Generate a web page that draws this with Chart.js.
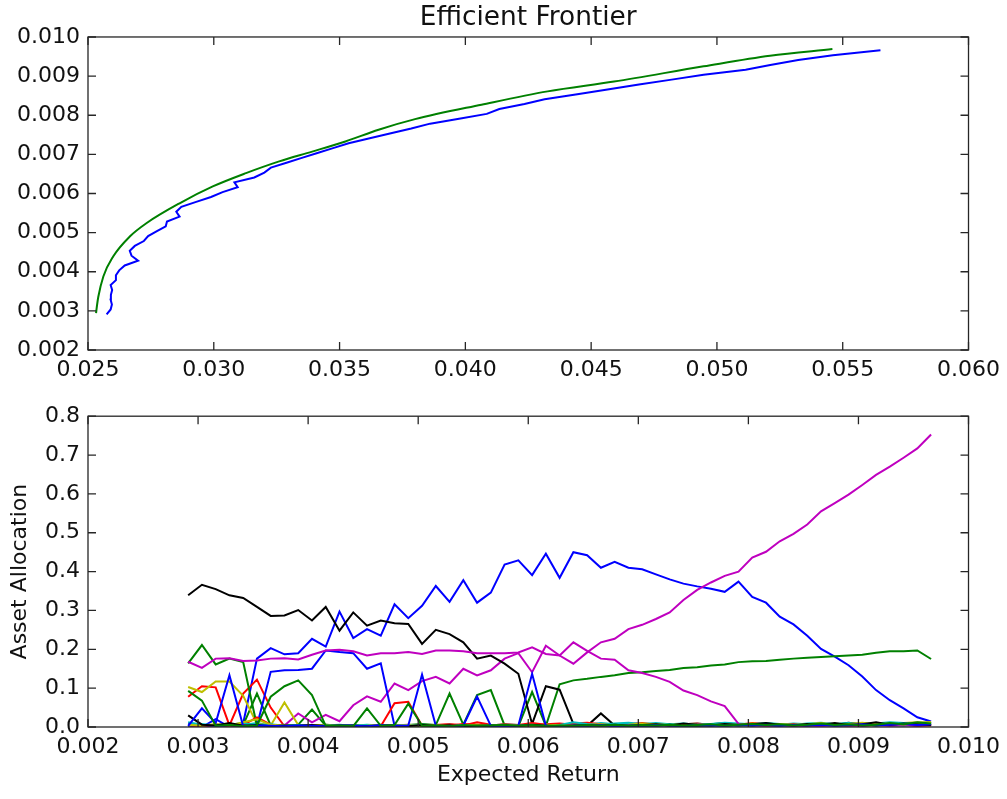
<!DOCTYPE html>
<html>
<head>
<meta charset="utf-8">
<script src="https://cdn.jsdelivr.net/npm/chart.js@4.4.1/dist/chart.umd.min.js"></script>
<style>
  html, body { margin: 0; padding: 0; background: #ffffff; }
  #wrap { position: relative; width: 1007px; height: 799px; }
  canvas { position: absolute; left: 0; }
  #frontier { top: 0; }
  #alloc { top: 395px; }
</style>
</head>
<body>
<div id="wrap">
  <canvas id="frontier" width="1007" height="395"></canvas>
  <canvas id="alloc" width="1007" height="404"></canvas>
</div>
<script>
// Target expected returns used for every optimised portfolio
const expectedReturn = [
  0.002910, 0.003035, 0.003160, 0.003285, 0.003410, 0.003535, 0.003660, 0.003785, 0.003910, 0.004035, 0.004160,
  0.004285, 0.004410, 0.004535, 0.004660, 0.004785, 0.004910, 0.005035, 0.005160, 0.005285, 0.005410, 0.005535,
  0.005660, 0.005785, 0.005910, 0.006035, 0.006160, 0.006285, 0.006410, 0.006535, 0.006660, 0.006785, 0.006910,
  0.007035, 0.007160, 0.007285, 0.007410, 0.007535, 0.007660, 0.007785, 0.007910, 0.008035, 0.008160, 0.008285,
  0.008410, 0.008535, 0.008660, 0.008785, 0.008910, 0.009035, 0.009160, 0.009285, 0.009410, 0.009535, 0.009660
];

// Risk (std dev) of the optimised portfolios, one per target return
const portfolioRisk = [
  0.02574, 0.02590, 0.02595, 0.02590, 0.02591, 0.02596, 0.02590, 0.02611, 0.02611, 0.02624, 0.02646,
  0.02699, 0.02673, 0.02666, 0.02686, 0.02722, 0.02739, 0.02774, 0.02809, 0.02814, 0.02864, 0.02851,
  0.02871, 0.02930, 0.02989, 0.03035, 0.03095, 0.03082, 0.03161, 0.03201, 0.03227, 0.03289, 0.03350,
  0.03412, 0.03474, 0.03536, 0.03620, 0.03700, 0.03785, 0.03860, 0.03975, 0.04085, 0.04135, 0.04235,
  0.04315, 0.04445, 0.04565, 0.04690, 0.04820, 0.04947, 0.05114, 0.05212, 0.05323, 0.05461, 0.05650
];

// Analytical frontier
const frontierRisk = [
  0.02532, 0.02536, 0.02541, 0.02561, 0.02600, 0.02666, 0.02732, 0.02864, 0.02996, 0.03128, 0.03260,
  0.03391, 0.03523, 0.03655, 0.03800, 0.04064, 0.04327, 0.04591, 0.04947, 0.05211, 0.05459
];
const frontierReturn = [
  0.00294, 0.00315, 0.00336, 0.00388, 0.00439, 0.00490, 0.00524, 0.00575, 0.00618, 0.00652, 0.00682,
  0.00707, 0.00733, 0.00763, 0.00790, 0.00827, 0.00861, 0.00886, 0.00925, 0.00952, 0.00969
];

// Asset weights along the frontier
const asset01 = [
  0.010, 0.000, 0.020, 0.000, 0.010, 0.176, 0.203, 0.187, 0.190, 0.227, 0.207,
  0.297, 0.229, 0.252, 0.235, 0.316, 0.280, 0.312, 0.363, 0.322, 0.378, 0.320,
  0.346, 0.418, 0.429, 0.391, 0.446, 0.384, 0.450, 0.442, 0.410, 0.425, 0.410,
  0.406, 0.393, 0.380, 0.369, 0.362, 0.356, 0.348, 0.374, 0.335, 0.320, 0.284,
  0.264, 0.235, 0.201, 0.181, 0.159, 0.130, 0.095, 0.069, 0.048, 0.025, 0.014
];
const asset02 = [
  0.004, 0.002, 0.006, 0.003, 0.005, 0.086, 0.004, 0.002, 0.006, 0.045, 0.003,
  0.005, 0.002, 0.004, 0.006, 0.003, 0.005, 0.008, 0.005, 0.086, 0.006, 0.082,
  0.095, 0.004, 0.002, 0.090, 0.003, 0.110, 0.120, 0.124, 0.129, 0.133, 0.139,
  0.141, 0.144, 0.147, 0.152, 0.154, 0.158, 0.161, 0.167, 0.169, 0.170, 0.173,
  0.176, 0.178, 0.180, 0.182, 0.184, 0.186, 0.191, 0.195, 0.195, 0.197, 0.175
];
const asset03 = [
  0.078, 0.105, 0.102, 0.004, 0.086, 0.122, 0.050, 0.002, 0.003, 0.001, 0.004,
  0.002, 0.005, 0.003, 0.002, 0.004, 0.006, 0.003, 0.005, 0.008, 0.004, 0.012,
  0.006, 0.003, 0.005, 0.004, 0.007, 0.009, 0.006, 0.004, 0.008, 0.005, 0.007,
  0.004, 0.006, 0.008, 0.005, 0.003, 0.006, 0.004, 0.007, 0.005, 0.003, 0.006,
  0.004, 0.005, 0.007, 0.004, 0.006, 0.003, 0.005, 0.004, 0.006, 0.003, 0.004
];
const asset04 = [
  0.012, 0.006, 0.004, 0.008, 0.005, 0.010, 0.004, 0.006, 0.003, 0.005, 0.002,
  0.004, 0.003, 0.006, 0.004, 0.002, 0.005, 0.003, 0.004, 0.006, 0.003, 0.005,
  0.004, 0.007, 0.005, 0.003, 0.006, 0.004, 0.008, 0.006, 0.010, 0.007, 0.009,
  0.006, 0.008, 0.005, 0.007, 0.009, 0.006, 0.004, 0.007, 0.005, 0.008, 0.006,
  0.009, 0.007, 0.005, 0.008, 0.006, 0.009, 0.007, 0.010, 0.008, 0.006, 0.009
];
const asset05 = [
  0.003, 0.002, 0.004, 0.003, 0.002, 0.005, 0.003, 0.004, 0.035, 0.012, 0.031,
  0.015, 0.056, 0.079, 0.065, 0.112, 0.095, 0.118, 0.129, 0.112, 0.150, 0.133,
  0.146, 0.176, 0.190, 0.141, 0.209, 0.184, 0.163, 0.192, 0.218, 0.227, 0.252,
  0.263, 0.278, 0.295, 0.327, 0.353, 0.372, 0.389, 0.400, 0.436, 0.451, 0.478,
  0.497, 0.521, 0.555, 0.576, 0.598, 0.623, 0.649, 0.670, 0.693, 0.717, 0.753
];
const asset06 = [
  0.103, 0.090, 0.117, 0.117, 0.080, 0.008, 0.004, 0.063, 0.005, 0.003, 0.006,
  0.004, 0.002, 0.005, 0.003, 0.006, 0.004, 0.002, 0.005, 0.003, 0.006, 0.004,
  0.003, 0.005, 0.002, 0.004, 0.006, 0.003, 0.005, 0.004, 0.002, 0.006, 0.004,
  0.005, 0.003, 0.006, 0.004, 0.002, 0.005, 0.007, 0.004, 0.006, 0.003, 0.005,
  0.008, 0.006, 0.004, 0.007, 0.005, 0.009, 0.006, 0.008, 0.010, 0.012, 0.010
];
const asset07 = [
  0.339, 0.366, 0.355, 0.339, 0.332, 0.309, 0.286, 0.287, 0.301, 0.274, 0.309,
  0.248, 0.295, 0.261, 0.274, 0.267, 0.265, 0.214, 0.250, 0.239, 0.218, 0.176,
  0.184, 0.163, 0.137, 0.008, 0.105, 0.096, 0.008, 0.003, 0.035, 0.004, 0.003,
  0.006, 0.004, 0.008, 0.005, 0.003, 0.007, 0.010, 0.006, 0.004, 0.008, 0.005,
  0.007, 0.004, 0.009, 0.006, 0.011, 0.007, 0.005, 0.008, 0.006, 0.004, 0.007
];
const asset08 = [
  0.002, 0.004, 0.003, 0.002, 0.004, 0.003, 0.142, 0.146, 0.147, 0.150, 0.197,
  0.193, 0.190, 0.150, 0.164, 0.003, 0.002, 0.004, 0.003, 0.002, 0.004, 0.003,
  0.002, 0.003, 0.004, 0.002, 0.003, 0.002, 0.004, 0.003, 0.005, 0.003, 0.002,
  0.004, 0.003, 0.005, 0.002, 0.004, 0.003, 0.005, 0.004, 0.006, 0.004, 0.003,
  0.005, 0.004, 0.006, 0.003, 0.005, 0.004, 0.006, 0.005, 0.004, 0.006, 0.005
];
const asset09 = [
  0.164, 0.211, 0.161, 0.176, 0.167, 0.003, 0.005, 0.002, 0.004, 0.003, 0.006,
  0.003, 0.004, 0.002, 0.005, 0.003, 0.002, 0.004, 0.003, 0.005, 0.002, 0.004,
  0.003, 0.005, 0.002, 0.004, 0.003, 0.002, 0.004, 0.003, 0.005, 0.004, 0.002,
  0.003, 0.005, 0.004, 0.002, 0.004, 0.006, 0.003, 0.005, 0.004, 0.007, 0.005,
  0.006, 0.004, 0.007, 0.005, 0.003, 0.006, 0.004, 0.008, 0.006, 0.009, 0.012
];
const asset10 = [
  0.004, 0.002, 0.006, 0.003, 0.005, 0.025, 0.006, 0.003, 0.002, 0.004, 0.003,
  0.005, 0.002, 0.004, 0.002, 0.061, 0.065, 0.003, 0.005, 0.004, 0.008, 0.006,
  0.004, 0.007, 0.005, 0.010, 0.006, 0.004, 0.009, 0.011, 0.007, 0.005, 0.008,
  0.010, 0.006, 0.004, 0.007, 0.009, 0.005, 0.008, 0.006, 0.010, 0.007, 0.005,
  0.008, 0.006, 0.009, 0.007, 0.004, 0.006, 0.008, 0.005, 0.007, 0.004, 0.006
];
const asset11 = [
  0.004, 0.008, 0.003, 0.006, 0.010, 0.004, 0.007, 0.003, 0.005, 0.002, 0.004,
  0.006, 0.003, 0.005, 0.002, 0.004, 0.003, 0.006, 0.004, 0.002, 0.005, 0.003,
  0.005, 0.003, 0.004, 0.006, 0.003, 0.005, 0.012, 0.008, 0.006, 0.009, 0.011,
  0.008, 0.010, 0.007, 0.009, 0.006, 0.008, 0.011, 0.009, 0.007, 0.010, 0.008,
  0.006, 0.009, 0.011, 0.008, 0.010, 0.007, 0.009, 0.012, 0.010, 0.008, 0.011
];
const asset12 = [
  0.168, 0.152, 0.176, 0.177, 0.170, 0.171, 0.176, 0.177, 0.174, 0.186, 0.197,
  0.199, 0.195, 0.184, 0.190, 0.190, 0.193, 0.188, 0.197, 0.197, 0.195, 0.190,
  0.190, 0.190, 0.192, 0.205, 0.188, 0.184, 0.218, 0.196, 0.176, 0.173, 0.146,
  0.139, 0.129, 0.116, 0.094, 0.082, 0.066, 0.054, 0.008, 0.004, 0.003, 0.005,
  0.003, 0.004, 0.002, 0.005, 0.003, 0.004, 0.006, 0.003, 0.005, 0.004, 0.006
];
const asset13 = [
  0.006, 0.003, 0.008, 0.004, 0.012, 0.020, 0.006, 0.004, 0.002, 0.005, 0.003,
  0.004, 0.002, 0.003, 0.005, 0.002, 0.004, 0.003, 0.005, 0.002, 0.004, 0.006,
  0.003, 0.005, 0.004, 0.002, 0.006, 0.004, 0.003, 0.005, 0.007, 0.004, 0.006,
  0.009, 0.007, 0.005, 0.008, 0.006, 0.004, 0.007, 0.005, 0.009, 0.006, 0.008,
  0.005, 0.007, 0.010, 0.006, 0.008, 0.011, 0.007, 0.009, 0.006, 0.010, 0.013
];
const asset14 = [
  0.030, 0.006, 0.004, 0.010, 0.003, 0.005, 0.002, 0.004, 0.003, 0.005, 0.002,
  0.004, 0.003, 0.002, 0.004, 0.003, 0.002, 0.005, 0.003, 0.004, 0.002, 0.003,
  0.004, 0.002, 0.003, 0.005, 0.004, 0.002, 0.003, 0.005, 0.004, 0.006, 0.003,
  0.005, 0.007, 0.004, 0.009, 0.006, 0.004, 0.008, 0.005, 0.007, 0.010, 0.006,
  0.004, 0.008, 0.006, 0.010, 0.005, 0.007, 0.012, 0.006, 0.009, 0.007, 0.005
];
const asset15 = [
  0.003, 0.048, 0.010, 0.133, 0.002, 0.004, 0.003, 0.002, 0.004, 0.003, 0.002,
  0.004, 0.003, 0.002, 0.005, 0.003, 0.004, 0.135, 0.003, 0.002, 0.004, 0.078,
  0.003, 0.002, 0.004, 0.137, 0.003, 0.002, 0.004, 0.003, 0.005, 0.002, 0.004,
  0.003, 0.005, 0.004, 0.002, 0.006, 0.004, 0.003, 0.005, 0.004, 0.006, 0.003,
  0.005, 0.004, 0.006, 0.003, 0.005, 0.007, 0.004, 0.006, 0.008, 0.005, 0.007
];
const asset16 = [
  0.093, 0.068, 0.003, 0.005, 0.002, 0.004, 0.078, 0.105, 0.120, 0.082, 0.003,
  0.004, 0.002, 0.048, 0.003, 0.005, 0.060, 0.003, 0.004, 0.002, 0.005, 0.003,
  0.004, 0.006, 0.003, 0.005, 0.002, 0.004, 0.003, 0.005, 0.004, 0.006, 0.003,
  0.005, 0.004, 0.006, 0.003, 0.005, 0.007, 0.004, 0.006, 0.008, 0.005, 0.007,
  0.004, 0.006, 0.009, 0.005, 0.007, 0.004, 0.006, 0.010, 0.007, 0.012, 0.009
];

const weights = [asset01, asset02, asset03, asset04, asset05, asset06, asset07, asset08,
                 asset09, asset10, asset11, asset12, asset13, asset14, asset15, asset16];

// classic colour cycle: b, g, r, c, m, y, k
const colorCycle = ['#0000ff', '#008000', '#ff0000', '#00bfbf', '#bf00bf', '#bfbf00', '#000000'];

const frontierTicksX = { min: 0.025, max: 0.060, step: 0.005 };
const frontierTicksY = { min: 0.002, max: 0.010, step: 0.001 };
const allocTicksX = { min: 0.002, max: 0.010, step: 0.001 };
const allocTicksY = { min: 0.0, max: 0.8, step: 0.1 };

const FONT = { family: 'DejaVu Sans', size: 22 };
Chart.defaults.font.family = 'DejaVu Sans';
Chart.defaults.color = '#111111';

// Box around the plot area with inward tick marks on all four sides
const framePlugin = {
  id: 'frame',
  afterDraw(chart) {
    const { ctx, chartArea: a, scales } = chart;
    const xs = scales.x, ys = scales.y, len = 8;
    ctx.save();
    ctx.strokeStyle = '#262626';
    ctx.lineWidth = 1.3;
    ctx.beginPath();
    xs.ticks.forEach((t, i) => {
      const px = xs.getPixelForTick(i);
      ctx.moveTo(px, a.bottom); ctx.lineTo(px, a.bottom - len);
      ctx.moveTo(px, a.top); ctx.lineTo(px, a.top + len);
    });
    ys.ticks.forEach((t, i) => {
      const py = ys.getPixelForTick(i);
      ctx.moveTo(a.left, py); ctx.lineTo(a.left + len, py);
      ctx.moveTo(a.right, py); ctx.lineTo(a.right - len, py);
    });
    ctx.stroke();
    ctx.strokeRect(a.left, a.top, a.right - a.left, a.bottom - a.top);
    ctx.restore();
  }
};

function axis(range, digits, extra) {
  return Object.assign({
    type: 'linear',
    min: range.min,
    max: range.max,
    grid: { display: false, drawTicks: false },
    border: { display: false },
    ticks: {
      stepSize: range.step,
      autoSkip: false,
      maxRotation: 0,
      font: FONT,
      color: '#111111',
      callback: v => Number(v).toFixed(digits)
    }
  }, extra);
}

// Upper panel: efficient frontier
new Chart(document.getElementById('frontier'), {
  type: 'scatter',
  data: {
    datasets: [
      {
        data: portfolioRisk.map((r, i) => ({ x: r, y: expectedReturn[i] })),
        showLine: true, borderColor: colorCycle[0], borderWidth: 2,
        pointRadius: 0, tension: 0, fill: false
      },
      {
        data: frontierRisk.map((r, i) => ({ x: r, y: frontierReturn[i] })),
        showLine: true, borderColor: colorCycle[1], borderWidth: 2,
        pointRadius: 0, cubicInterpolationMode: 'monotone', fill: false
      }
    ]
  },
  options: {
    responsive: false,
    animation: false,
    devicePixelRatio: 1,
    layout: { padding: { left: 0, right: 34, top: 0, bottom: 0 } },
    plugins: {
      legend: { display: false },
      tooltip: { enabled: false },
      title: {
        display: true, text: 'Efficient Frontier', color: '#111111',
        fullSize: false,
        font: { family: 'DejaVu Sans', size: 26.4, weight: 'normal' },
        padding: { top: 2, bottom: 3.3 }
      }
    },
    scales: {
      x: (() => { const s = axis(frontierTicksX, 3, { afterFit: sc => { sc.height = 45; } }); s.ticks.padding = 7; return s; })(),
      y: (() => { const s = axis(frontierTicksY, 3, { afterFit: sc => { sc.width = 88; } }); s.ticks.padding = 8; return s; })()
    }
  },
  plugins: [framePlugin]
});

// Lower panel: asset allocation against expected return
new Chart(document.getElementById('alloc'), {
  type: 'line',
  data: {
    datasets: weights.map((w, k) => ({
      data: expectedReturn.map((x, i) => ({ x: x, y: w[i] })),
      borderColor: colorCycle[k % colorCycle.length],
      borderWidth: 2,
      pointRadius: 0,
      tension: 0,
      fill: false,
      order: -k
    }))
  },
  options: {
    responsive: false,
    animation: false,
    devicePixelRatio: 1,
    layout: { padding: { left: 0, right: 34, top: 18, bottom: 0 } },
    plugins: { legend: { display: false }, tooltip: { enabled: false } },
    scales: {
      x: (() => {
        const s = axis(allocTicksX, 3, { afterFit: sc => { sc.height = 72; } });
        s.ticks.padding = 7;
        s.title = { display: true, text: 'Expected Return', color: '#111111', font: FONT, padding: { top: 0, bottom: 11 } };
        return s;
      })(),
      y: (() => {
        const s = axis(allocTicksY, 1, { afterFit: sc => { sc.width = 88; } });
        s.ticks.padding = 8;
        s.title = { display: true, text: 'Asset Allocation', color: '#111111', font: FONT, padding: { top: 7, bottom: 0 } };
        return s;
      })()
    }
  },
  plugins: [framePlugin]
});
</script>
</body>
</html>
